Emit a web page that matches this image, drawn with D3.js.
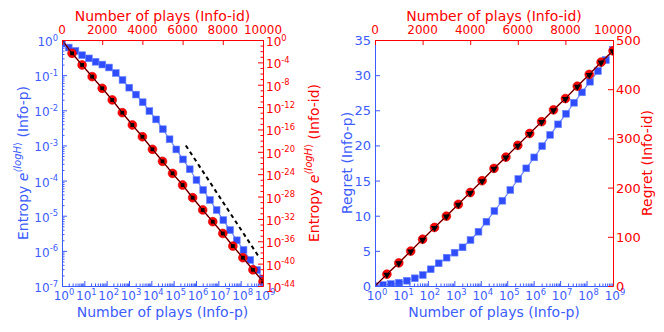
<!DOCTYPE html>
<html>
<head>
<meta charset="utf-8">
<script src="https://cdn.jsdelivr.net/npm/d3@7"></script>
<style>
body { margin: 0; background: #fff; }
text { font-family: "DejaVu Sans", sans-serif; }
</style>
</head>
<body>
<div id="chart"></div>
<script>
// Info-p: plays on a log axis (doubling), entropy and regret
const pPlays = [1, 2, 4, 8, 16, 32, 64, 128, 256, 512, 1024, 2048, 4096, 8192, 16384, 32768,
    65536, 131072, 262144, 524288, 1048576, 2097152, 4194304, 8388608, 16777216, 33554432,
    67108864, 134217728, 268435456, 536870912, 1e9];
const pEntropy = [0.79, 0.61, 0.49, 0.37, 0.30, 0.24, 0.20, 0.165, 0.115, 0.073, 0.044, 0.028,
    0.017, 0.0095, 0.0055, 0.0029, 0.0015, 7.7e-4, 4.0e-4, 2.1e-4, 1.04e-4, 5.4e-5, 2.8e-5,
    1.45e-5, 7.5e-6, 3.9e-6, 2.0e-6, 1.06e-6, 5.5e-7, 2.85e-7, 1.63e-7];
const pRegret = [0, 0.14, 0.28, 0.47, 0.75, 1.1, 1.56, 2.38, 3.23, 4.03, 4.74, 5.5, 6.54, 7.72,
    9.15, 10.67, 12.13, 13.66, 15.22, 16.74, 18.3, 19.9, 21.5, 23.0, 24.5, 26.07, 27.55, 29.06,
    30.58, 32.15, 33.6];

// Info-id: plays on a linear axis
const idPlays = [0, 500, 1000, 1500, 2000, 2500, 3000, 3500, 4000, 4500, 5000, 5500, 6000,
    6500, 7000, 7500, 8000, 8500, 9000, 9500, 10000];
const idEntropy = [1, 4.2e-3, 3.4e-5, 2.8e-7, 2.3e-9, 1.9e-11, 1e-13, 6.3e-16, 5e-18, 2.8e-20,
    2e-22, 1.4e-24, 1.15e-26, 6.3e-29, 4e-31, 3.2e-33, 2.5e-35, 1.4e-37, 1.15e-39, 8e-42, 6.3e-44];
const idRegret = [0, 24, 47, 71, 95, 119, 142, 166, 190, 214, 239, 262, 286, 310, 334, 358,
    381, 406, 430, 455, 478];

// dashed 1/n guide
const guideX = [3.5e5, 7e8];
const guideY = [1e-3, 6.3e-7];

// tick values
const decades = [1, 10, 100, 1e3, 1e4, 1e5, 1e6, 1e7, 1e8, 1e9];
const decadeExp = ['0', '1', '2', '3', '4', '5', '6', '7', '8', '9'];
const entropyTicks = [1, 1e-1, 1e-2, 1e-3, 1e-4, 1e-5, 1e-6, 1e-7];
const entropyExp = ['0', '-1', '-2', '-3', '-4', '-5', '-6', '-7'];
const idEntropyTicks = [1, 1e-4, 1e-8, 1e-12, 1e-16, 1e-20, 1e-24, 1e-28, 1e-32, 1e-36, 1e-40, 1e-44];
const idEntropyExp = ['0', '-4', '-8', '-12', '-16', '-20', '-24', '-28', '-32', '-36', '-40', '-44'];
const topTicks = [0, 2000, 4000, 6000, 8000, 10000];
const regretPTicks = [0, 5, 10, 15, 20, 25, 30, 35];
const regretIdTicks = [0, 100, 200, 300, 400, 500];

const blue = '#2f4dff', blueText = '#3d5cff', red = '#ff0000';
const W = 664, H = 332;

const svg = d3.select('#chart').append('svg')
    .attr('width', W)
    .attr('height', H);

function minorLog(lo, hi) {
    let out = [];
    for (let e = lo; e < hi; e++) {
        for (let m = 2; m < 10; m++) out.push(m * Math.pow(10, e));
    }
    return out;
}

function drawAxis(g, axis, color, transform) {
    const a = g.append('g')
        .attr('transform', transform)
        .attr('color', color)
        .call(axis);
    a.selectAll('path, line').attr('stroke-width', 1);
    return a;
}

function supText(g, x, y, base, exp, anchor, color, size) {
    const t = g.append('text')
        .attr('x', x).attr('y', y)
        .attr('text-anchor', anchor)
        .attr('fill', color)
        .attr('font-size', size);
    t.append('tspan').text(base);
    t.append('tspan').attr('dy', -size * 0.45).attr('font-size', size * 0.7).text(exp);
    return t;
}

function plainText(g, x, y, s, anchor, color, size, rotate) {
    return g.append('text')
        .attr('transform', `translate(${x},${y})` + (rotate ? ' rotate(-90)' : ''))
        .attr('text-anchor', anchor)
        .attr('fill', color)
        .attr('font-size', size)
        .text(s);
}

function entropyLabel(g, x, y, color, tag) {
    const t = g.append('text')
        .attr('transform', `translate(${x},${y}) rotate(-90)`)
        .attr('text-anchor', 'middle')
        .attr('fill', color)
        .attr('font-size', 14);
    t.append('tspan').text('Entropy ');
    t.append('tspan').attr('font-style', 'italic').text('e');
    t.append('tspan').attr('dy', -7).attr('font-size', 10).attr('font-style', 'italic').text('\u27E8log');
    t.append('tspan').attr('font-size', 10).attr('font-style', 'italic').text('H');
    t.append('tspan').attr('font-size', 10).text('\u27E9');
    t.append('tspan').attr('dy', 7).text(' ' + tag);
}

function clip(id, x0, y0, x1, y1) {
    svg.append('clipPath').attr('id', id)
        .append('rect').attr('x', x0).attr('y', y0).attr('width', x1 - x0).attr('height', y1 - y0);
}

// ---------------- left panel: entropy ----------------
{
    const L = 62, R = 263, T = 40, B = 286;
    const x = d3.scaleLog().domain([1, 1e9]).range([L, R]);
    const y = d3.scaleLog().domain([1e-7, 1]).range([B, T]);
    const x2 = d3.scaleLinear().domain([0, 10000]).range([L, R]);
    const y2 = d3.scaleLog().domain([1e-44, 1]).range([B, T]);
    clip('clipL', L, T, R, B);

    const g = svg.append('g');
    const plot = g.append('g').attr('clip-path', 'url(#clipL)');

    // blue Info-p series
    const lineP = d3.line().x((d, i) => x(pPlays[i])).y(d => y(d));
    plot.append('path').datum(pEntropy)
        .attr('d', lineP).attr('fill', 'none').attr('stroke', '#6a85ff').attr('stroke-width', 1.2);
    plot.selectAll('.sqP').data(pEntropy).enter().append('rect')
        .attr('x', (d, i) => x(pPlays[i]) - 3.4)
        .attr('y', d => y(d) - 3.4)
        .attr('width', 6.8).attr('height', 6.8)
        .attr('fill', blue).attr('stroke', '#6a85ff').attr('stroke-width', 0.6);

    // dashed guide
    plot.append('path').datum(guideX)
        .attr('d', d3.line().x(d => x(d)).y((d, i) => y(guideY[i])))
        .attr('fill', 'none').attr('stroke', '#000').attr('stroke-width', 2)
        .attr('stroke-dasharray', '4,3.5');

    // red/black Info-id series
    const lineId = d3.line().x((d, i) => x2(idPlays[i])).y(d => y2(d));
    plot.append('path').datum(idEntropy)
        .attr('d', lineId).attr('fill', 'none').attr('stroke', red).attr('stroke-width', 1.5);
    plot.selectAll('.cId').data(idEntropy.slice(1)).enter().append('circle')
        .attr('cx', (d, i) => x2(idPlays[i + 1]))
        .attr('cy', d => y2(d))
        .attr('r', 4.4).attr('fill', red).attr('stroke', '#d40000').attr('stroke-width', 0.6);
    plot.append('path').datum(idEntropy)
        .attr('d', lineId).attr('fill', 'none').attr('stroke', '#111').attr('stroke-width', 1);
    plot.selectAll('.bId').data(idEntropy.slice(1)).enter().append('rect')
        .attr('x', (d, i) => x2(idPlays[i + 1]) - 1.9)
        .attr('y', d => y2(d) - 1.9)
        .attr('width', 3.8).attr('height', 3.8).attr('fill', '#000');

    // axes
    drawAxis(g, d3.axisBottom(x).tickValues(minorLog(0, 9)).tickSize(-2.5).tickSizeOuter(0).tickFormat(''), blueText, `translate(0,${B})`);
    drawAxis(g, d3.axisBottom(x).tickValues(decades).tickSize(-5).tickSizeOuter(0).tickFormat(''), blueText, `translate(0,${B})`);
    drawAxis(g, d3.axisLeft(y).tickValues(minorLog(-7, 0)).tickSize(-2.5).tickSizeOuter(0).tickFormat(''), blueText, `translate(${L},0)`);
    drawAxis(g, d3.axisLeft(y).tickValues(entropyTicks).tickSize(-5).tickSizeOuter(0).tickFormat(''), blueText, `translate(${L},0)`);
    drawAxis(g, d3.axisTop(x2).tickValues(topTicks).tickSize(-5).tickSizeOuter(0).tickFormat(''), red, `translate(0,${T})`);
    const minorId = d3.range(0, 45).filter(e => e % 4 !== 0).map(e => Math.pow(10, -e));
    drawAxis(g, d3.axisRight(y2).tickValues(minorId).tickSize(-2.5).tickSizeOuter(0).tickFormat(''), red, `translate(${R},0)`);
    drawAxis(g, d3.axisRight(y2).tickValues(idEntropyTicks).tickSize(-5).tickSizeOuter(0).tickFormat(''), red, `translate(${R},0)`);

    // tick labels
    decades.forEach((d, i) => supText(g, x(d) + 2, 300, '10', decadeExp[i], 'middle', blueText, 12));
    entropyTicks.forEach((d, i) => supText(g, L - 4, y(d) + 6, '10', entropyExp[i], 'end', blueText, 12));
    idEntropyTicks.forEach((d, i) => supText(g, R + 3, y2(d) + 6, '10', idEntropyExp[i], 'start', red, 12));
    topTicks.forEach(d => plainText(g, x2(d), 34, String(d), 'middle', red, 12));

    // axis titles
    plainText(g, (L + R) / 2, 317, 'Number of plays (Info-p)', 'middle', blueText, 14);
    plainText(g, (L + R) / 2, 21, 'Number of plays (Info-id)', 'middle', red, 14);
    entropyLabel(g, 28, (T + B) / 2, blueText, '(Info-p)');
    entropyLabel(g, 319, (T + B) / 2, red, '(Info-id)');
}

// ---------------- right panel: regret ----------------
{
    const L = 375, R = 613, T = 40, B = 286;
    const x = d3.scaleLog().domain([1, 1e9]).range([L, R]);
    const y = d3.scaleLinear().domain([0, 35]).range([B, T]);
    const x2 = d3.scaleLinear().domain([0, 10000]).range([L, R]);
    const y2 = d3.scaleLinear().domain([0, 500]).range([B, T]);
    clip('clipR', L, T, R, B);

    const g = svg.append('g');
    const plot = g.append('g').attr('clip-path', 'url(#clipR)');

    const lineP = d3.line().x((d, i) => x(pPlays[i])).y(d => y(d));
    plot.append('path').datum(pRegret)
        .attr('d', lineP).attr('fill', 'none').attr('stroke', '#6a85ff').attr('stroke-width', 1.2);
    plot.selectAll('.sqP').data(pRegret).enter().append('rect')
        .attr('x', (d, i) => x(pPlays[i]) - 3.4)
        .attr('y', d => y(d) - 3.4)
        .attr('width', 6.8).attr('height', 6.8)
        .attr('fill', blue).attr('stroke', '#6a85ff').attr('stroke-width', 0.6);

    const lineId = d3.line().x((d, i) => x2(idPlays[i])).y(d => y2(d));
    plot.append('path').datum(idRegret)
        .attr('d', lineId).attr('fill', 'none').attr('stroke', red).attr('stroke-width', 1.5);
    plot.selectAll('.cId').data(idRegret.slice(1)).enter().append('circle')
        .attr('cx', (d, i) => x2(idPlays[i + 1]))
        .attr('cy', d => y2(d))
        .attr('r', 4.4).attr('fill', red).attr('stroke', '#d40000').attr('stroke-width', 0.6);
    plot.append('path').datum(idRegret)
        .attr('d', lineId).attr('fill', 'none').attr('stroke', '#111').attr('stroke-width', 1);
    const tri = d3.symbol().type(d3.symbolTriangle).size(22);
    plot.selectAll('.tId').data(idRegret.slice(1)).enter().append('path')
        .attr('d', tri)
        .attr('transform', (d, i) => `translate(${x2(idPlays[i + 1])},${y2(d) + 0.5}) rotate(180)`)
        .attr('fill', '#000');

    drawAxis(g, d3.axisBottom(x).tickValues(minorLog(0, 9)).tickSize(-2.5).tickSizeOuter(0).tickFormat(''), blueText, `translate(0,${B})`);
    drawAxis(g, d3.axisBottom(x).tickValues(decades).tickSize(-5).tickSizeOuter(0).tickFormat(''), blueText, `translate(0,${B})`);
    drawAxis(g, d3.axisLeft(y).tickValues(regretPTicks).tickSize(-5).tickSizeOuter(0).tickFormat(''), blueText, `translate(${L},0)`);
    drawAxis(g, d3.axisTop(x2).tickValues(topTicks).tickSize(-5).tickSizeOuter(0).tickFormat(''), red, `translate(0,${T})`);
    drawAxis(g, d3.axisRight(y2).tickValues(regretIdTicks).tickSize(-5).tickSizeOuter(0).tickFormat(''), red, `translate(${R},0)`);

    decades.forEach((d, i) => supText(g, x(d) + 2, 300, '10', decadeExp[i], 'middle', blueText, 12));
    regretPTicks.forEach(d => plainText(g, L - 4, y(d) + 5, String(d), 'end', blueText, 13));
    regretIdTicks.forEach(d => plainText(g, R + 3, y2(d) + 5, String(d), 'start', red, 13));
    topTicks.forEach(d => plainText(g, x2(d), 34, String(d), 'middle', red, 12));

    plainText(g, (L + R) / 2, 317, 'Number of plays (Info-p)', 'middle', blueText, 14);
    plainText(g, (L + R) / 2, 21, 'Number of plays (Info-id)', 'middle', red, 14);
    plainText(g, 352, (T + B) / 2, 'Regret (Info-p)', 'middle', blueText, 14, true);
    plainText(g, 652, (T + B) / 2, 'Regret (Info-id)', 'middle', red, 14, true);
}
</script>
</body>
</html>
